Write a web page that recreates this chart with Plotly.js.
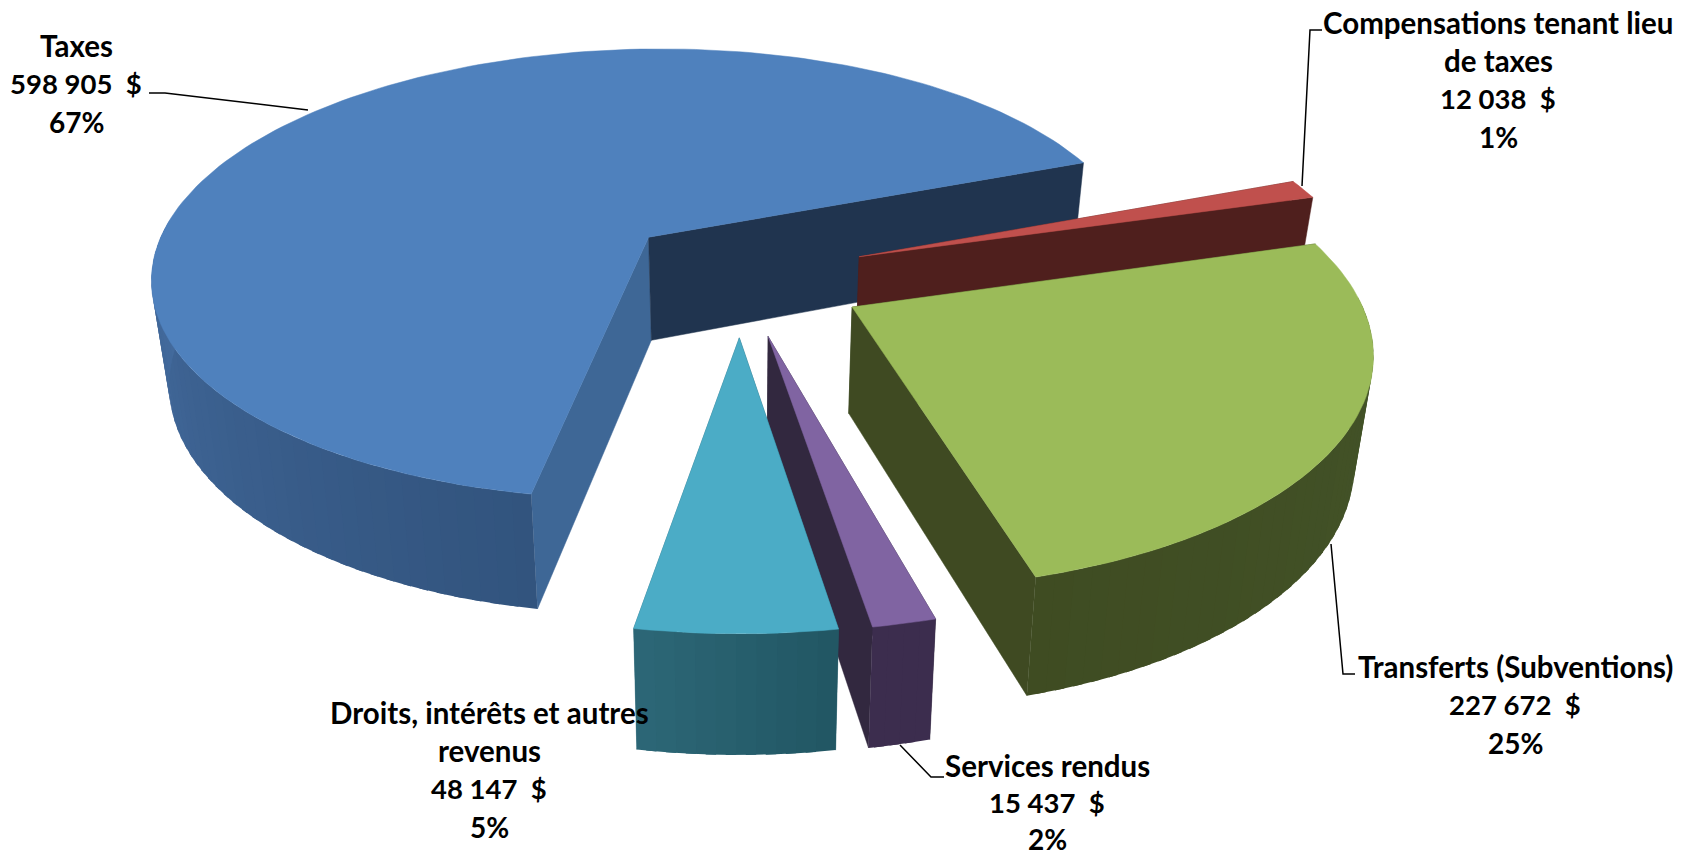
<!DOCTYPE html>
<html>
<head>
<meta charset="utf-8">
<script src="https://cdn.plot.ly/plotly-3.0.1.min.js"></script>
<style>html,body{margin:0;padding:0;background:#fff;overflow:hidden}#c{width:1697px;height:856px}</style>
</head>
<body>
<div id="c"></div>
<script>
// ---- data ----
const categories = ["Taxes", "Compensations tenant lieu de taxes", "Transferts (Subventions)", "Services rendus", "Droits, intérêts et autres revenus"];
const values = [598905, 12038, 227672, 15437, 48147];
const valueLabels = ["598 905  $", "12 038  $", "227 672  $", "15 437  $", "48 147  $"];
const pctLabels = ["67%", "1%", "25%", "2%", "5%"];
const nameLines = [["Taxes"], ["Compensations tenant lieu", "de taxes"], ["Transferts (Subventions)"], ["Services rendus"], ["Droits, intérêts et autres", "revenus"]];

// ---- styling ----
const pull = [0.28, 0.25, 0.25, 0.25, 0.25];
const nudgeU = [0.029, 0.004, 0, 0, 0];
const nudgeV = [-0.013, -0.02, 0, 0, 0];
const scaleU = [1, 1.01, 0.995, 0.97, 0.975];
const scaleV = [1.03, 1.01, 1, 1, 1];
const topColors = ["#4F81BD", "#C0504D", "#9BBB59", "#8064A2", "#4BACC6"];
const cutStart = ["#3E6796", "#4F1F1D", "#3F4A22", "#32283F", "#245A68"];
const cutEnd = ["#20344F", "#4F1F1D", "#3F4A22", "#32283F", "#2D6878"];
const rimFrom = ["#32547E", "#4F1F1D", "#3F4C22", "#3C2D4E", "#225764"];
const rimTo = ["#466EA2", "#4F1F1D", "#44552A", "#3C2D4E", "#2D6878"];
const rimSpan = [90, 10, 90, 10, 19];
const labelX = [76, 1498, 1515, 1047, 489];
const labelY = [45, 22, 666, 765, 712];
const lineSteps = [38.3, 38.3, 38.3, 37.2, 38.3];
const nameSize = 29.5, valueSize = 27.5, pctSize = 28;
const startAngle = 99.9;

// projection of the pie plane (a circle of radius 1) on the page
const Cx = 740, Cy = 279, rx = 503, ry = 226, k = 0.163, D = 105, a = 0.03;
function proj(u, v, z) {
  const w = 1 - k * v, s = 1 - a * z;
  return [Cx + rx * u * s / w, Cy + (ry * v * s + D * z) / w];
}
const rad = d => d * Math.PI / 180;
function hex(c) { return [1, 3, 5].map(i => parseInt(c.substr(i, 2), 16)); }
function lerp(c1, c2, f) {
  f = Math.max(0, Math.min(1, f));
  const A = hex(c1), B = hex(c2);
  return "rgb(" + A.map((x, i) => Math.round(x + (B[i] - x) * f)).join(",") + ")";
}
function poly(pts, color, lw) {
  return { type: "scatter", mode: "lines", x: pts.map(p => p[0]), y: pts.map(p => p[1]), fill: "toself",
    fillcolor: color, line: { color: color, width: lw }, hoverinfo: "skip", showlegend: false };
}

const total = values.reduce((s, x) => s + x, 0);
const traces = [];
let angle = startAngle;
values.forEach((val, i) => {
  const t0 = angle, t1 = angle + val / total * 360;
  angle = t1;
  const m = (t0 + t1) / 2;
  const ou = pull[i] * Math.cos(rad(m)) + nudgeU[i], ov = pull[i] * Math.sin(rad(m)) + nudgeV[i];
  const P = (t, z) => proj(ou + scaleU[i] * Math.cos(rad(t)), ov + scaleV[i] * Math.sin(rad(t)), z);
  const A = z => proj(ou, ov, z);
  // cut faces
  traces.push(poly([A(0), P(t0, 0), P(t0, 1), A(1), A(0)], cutStart[i], 0.5));
  traces.push(poly([A(0), P(t1, 0), P(t1, 1), A(1), A(0)], cutEnd[i], 0.5));
  // outer wall: only the part that faces the viewer; each band overlaps the next to avoid seams
  const step = (t1 - t0) / Math.max(2, Math.ceil((t1 - t0) / 2));
  for (let a0 = t0; a0 < t1 - 1e-6; a0 += step) {
    const a1 = Math.min(t1, a0 + step);
    if (Math.sin(rad((a0 + a1) / 2)) < -0.05) continue;
    const pos = i === 2 ? (t1 - a0) : (a0 - t0);
    const over = Math.min(t1, a1 + 1);
    const q = [P(a0, 0), P((a0 + over) / 2, 0), P(over, 0), P(over, 1), P((a0 + over) / 2, 1), P(a0, 1), P(a0, 0)];
    traces.push(poly(q, lerp(rimFrom[i], rimTo[i], pos / rimSpan[i]), 0));
  }
  // top surface
  const top = [A(0)];
  const nt = Math.max(4, Math.ceil((t1 - t0) / 1.5));
  for (let j = 0; j <= nt; j++) top.push(P(t0 + (t1 - t0) * j / nt, 0));
  top.push(A(0));
  traces.push(poly(top, topColors[i], 0.5));
});

// labels, one annotation per line so that the spacing can follow the picture
const annotations = [];
categories.forEach((c, i) => {
  const lines = nameLines[i].map(t => [t, nameSize]).concat([[valueLabels[i], valueSize], [pctLabels[i], pctSize]]);
  lines.forEach((ln, j) => {
    annotations.push({ x: labelX[i], y: labelY[i] + j * lineSteps[i], xref: "x", yref: "y", text: ln[0], showarrow: false,
      xanchor: "center", yanchor: "middle", font: { family: "Lato, sans-serif", size: ln[1], weight: 700, color: "#000" } });
  });
});

// leader lines
const leaders = [
  "M149,93 L165,93 L308,110",
  "M1322,30 L1310,30 L1302,186",
  "M1355,674 L1343,674 L1331,544",
  "M944,777 L931,777 L900,745"
];
const shapes = leaders.map(p => ({ type: "path", path: p, xref: "x", yref: "y", line: { color: "#000", width: 1.5 }, layer: "above" }));

Plotly.newPlot("c", traces, {
  width: 1697, height: 856, margin: { l: 0, r: 0, t: 0, b: 0 }, paper_bgcolor: "#fff", plot_bgcolor: "#fff",
  xaxis: { range: [0, 1697], visible: false, fixedrange: true },
  yaxis: { range: [856, 0], visible: false, fixedrange: true },
  showlegend: false, annotations: annotations, shapes: shapes
}, { displayModeBar: false, staticPlot: true });
</script>
</body>
</html>
